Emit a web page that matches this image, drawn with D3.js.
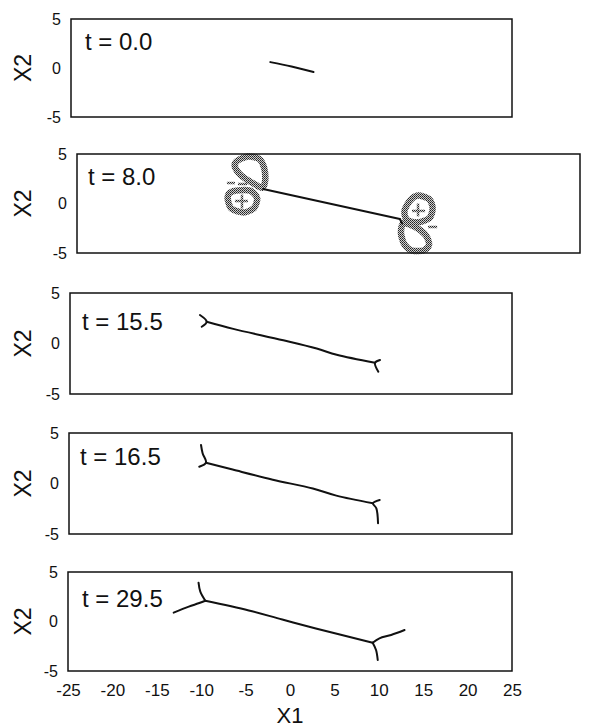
<!DOCTYPE html>
<html>
<head>
<meta charset="utf-8">
<script src="https://cdn.jsdelivr.net/npm/d3@7"></script>
<style>
  body { margin: 0; background: #fff; }
  svg { display: block; font-family: "Liberation Sans", Arial, sans-serif; }
</style>
</head>
<body>
<div id="chart"></div>
<script>
// tick values
const xTicks = [-25, -20, -15, -10, -5, 0, 5, 10, 15, 20, 25];
const yTicks = [-5, 0, 5];
const times = ["0.0", "8.0", "15.5", "16.5", "29.5"];

// filament polylines per snapshot, [X1, X2]
const lines00 = [
  [[-2.4, 0.6], [0, 0.15], [2.5, -0.4]]
];
const lines80 = [
  [[-6.5, 1.46], [7.1, -1.57]],
  [[7.1, -1.57], [7.3, -2.0]]
];
const lines155 = [
  [[-9.54, 2.16], [-6.53, 1.45], [-0.87, 0.32], [2.91, -0.5], [5.17, -1.12], [9.5, -1.91]],
  [[-10.3, 2.82], [-9.54, 2.16], [-10.1, 1.66]],
  [[10.07, -1.63], [9.5, -1.91], [9.88, -2.79]]
];
const lines165 = [
  [[-9.54, 2.06], [-6.53, 1.38], [-2.0, 0.38], [2.52, -0.5], [5.17, -1.2], [9.31, -1.96]],
  [[-10.1, 3.81], [-9.92, 2.99], [-9.54, 2.06], [-10.3, 1.66]],
  [[10.07, -1.63], [9.31, -1.96], [9.69, -2.46], [9.88, -3.94]]
];
const lines295 = [
  [[-9.54, 2.1], [-4.64, 1.12], [-0.87, 0.2], [2.91, -0.7], [9.31, -2.14]],
  [[-10.3, 3.92], [-10.1, 3.01], [-9.54, 2.1]],
  [[-9.54, 2.1], [-10.3, 1.84], [-11.4, 1.5], [-13.1, 0.89]],
  [[9.31, -2.14], [10.07, -1.7], [11.39, -1.36], [12.9, -0.86]],
  [[9.31, -2.14], [9.69, -2.88], [9.88, -3.89]]
];

// grey loops at t = 8.0 (closed curves)
const loops80 = [
  [[-9.1, 4.3], [-8.0, 4.75], [-6.9, 4.5], [-6.4, 3.59], [-6.3, 2.27], [-6.6, 1.6], [-7.6, 2.1], [-8.7, 2.85], [-9.3, 3.69]],
  [[-9.19, 1.3], [-7.8, 1.3], [-7.1, 0.56], [-7.4, -0.45], [-8.4, -0.9], [-9.6, -0.56], [-10.0, 0.35], [-9.9, 1.0]],
  [[8.9, 0.8], [9.99, 0.45], [10.35, -0.45], [10.05, -1.46], [8.9, -1.9], [7.8, -1.67], [7.55, -0.76], [8.1, 0.3]],
  [[7.45, -2.0], [8.6, -2.37], [9.65, -3.18], [10.0, -4.15], [9.45, -4.75], [8.3, -4.75], [7.55, -4.15], [7.2, -2.98]]
];
// grey strokes: dashes and crosses at t = 8.0
const marks80 = [
  [[-10.1, 2.07], [-9.3, 2.07]],
  [[-9.0, 1.97], [-8.1, 1.97]],
  [[-9.3, 0.25], [-8.0, 0.25]],
  [[-8.6, 0.9], [-8.6, -0.5]],
  [[9.9, -2.37], [10.8, -2.37]],
  [[8.3, -0.75], [9.6, -0.75]],
  [[8.9, 0.0], [8.9, -1.3]]
];

const snapLines = [lines00, lines80, lines155, lines165, lines295];
const snapLoops = [[], loops80, [], [], []];
const snapMarks = [[], marks80, [], [], []];

// layout of each box in pixels
const frames = [
  { l: 71, r: 512, t: 19, b: 117, tx: 14, ty: 31 },
  { l: 77, r: 580, t: 154, b: 253, tx: 11, ty: 31 },
  { l: 70, r: 512, t: 293, b: 394, tx: 12, ty: 37 },
  { l: 69, r: 512, t: 433, b: 534, tx: 11, ty: 32 },
  { l: 68, r: 512, t: 572, b: 671, tx: 14, ty: 35 }
];

const width = 594, height = 727;

const svg = d3.select("#chart").append("svg")
  .attr("width", width)
  .attr("height", height);

// stipple pattern for the grey loops
const pat = svg.append("defs").append("pattern")
  .attr("id", "stipple")
  .attr("patternUnits", "userSpaceOnUse")
  .attr("width", 2).attr("height", 2);
pat.append("rect").attr("width", 2).attr("height", 2).attr("fill", "#cfcfcf");
pat.append("rect").attr("width", 1).attr("height", 1).attr("fill", "#222");
pat.append("rect").attr("x", 1).attr("y", 1).attr("width", 1).attr("height", 1).attr("fill", "#444");

frames.forEach((f, i) => {
  const x = d3.scaleLinear().domain([-25, 25]).range([f.l, f.r]);
  const y = d3.scaleLinear().domain([-5, 5]).range([f.b, f.t]);
  const g = svg.append("g");

  // grey loops under the filament
  const closed = d3.line().x(d => x(d[0])).y(d => y(d[1])).curve(d3.curveCardinalClosed.tension(0.2));
  g.selectAll(".loop").data(snapLoops[i]).enter().append("path")
    .attr("d", closed)
    .attr("fill", "none")
    .attr("stroke", "url(#stipple)")
    .attr("stroke-width", 6.5);

  const open = d3.line().x(d => x(d[0])).y(d => y(d[1])).curve(d3.curveCatmullRom);
  g.selectAll(".mark").data(snapMarks[i]).enter().append("path")
    .attr("d", open)
    .attr("fill", "none")
    .attr("stroke", "url(#stipple)")
    .attr("stroke-width", 2.5);

  g.selectAll(".fil").data(snapLines[i]).enter().append("path")
    .attr("d", open)
    .attr("fill", "none")
    .attr("stroke", "#111")
    .attr("stroke-width", 2)
    .attr("stroke-linejoin", "round")
    .attr("stroke-linecap", "round");

  // frame
  g.append("rect")
    .attr("x", f.l).attr("y", f.t)
    .attr("width", f.r - f.l).attr("height", f.b - f.t)
    .attr("fill", "none")
    .attr("stroke", "#111")
    .attr("stroke-width", 1.5);

  // y axis labels
  const yAxis = d3.axisLeft(y).tickValues(yTicks).tickSize(0).tickPadding(10)
    .tickFormat(d => String(d));
  const ya = g.append("g").attr("transform", `translate(${f.l},0)`).call(yAxis);
  ya.select(".domain").remove();
  ya.selectAll("text").attr("font-size", 16).attr("fill", "#111")
    .style("font-family", "'Liberation Sans', Arial, sans-serif");

  g.append("text")
    .attr("transform", `translate(31,${(f.t + f.b) / 2}) rotate(-90)`)
    .attr("text-anchor", "middle")
    .attr("font-size", 23)
    .attr("fill", "#111")
    .text("X2");

  g.append("text")
    .attr("x", f.l + f.tx)
    .attr("y", f.t + f.ty)
    .attr("font-size", 24)
    .attr("fill", "#111")
    .text("t = " + times[i]);

  if (i === frames.length - 1) {
    const xAxis = d3.axisBottom(x).tickValues(xTicks).tickSize(0).tickPadding(13)
      .tickFormat(d => String(d));
    const xa = g.append("g").attr("transform", `translate(0,${f.b})`).call(xAxis);
    xa.select(".domain").remove();
    xa.selectAll("text").attr("font-size", 17).attr("fill", "#111")
      .style("font-family", "'Liberation Sans', Arial, sans-serif");

    g.append("text")
      .attr("x", (f.l + f.r) / 2)
      .attr("y", 723)
      .attr("text-anchor", "middle")
      .attr("font-size", 22)
      .attr("fill", "#111")
      .text("X1");
  }
});
</script>
</body>
</html>
